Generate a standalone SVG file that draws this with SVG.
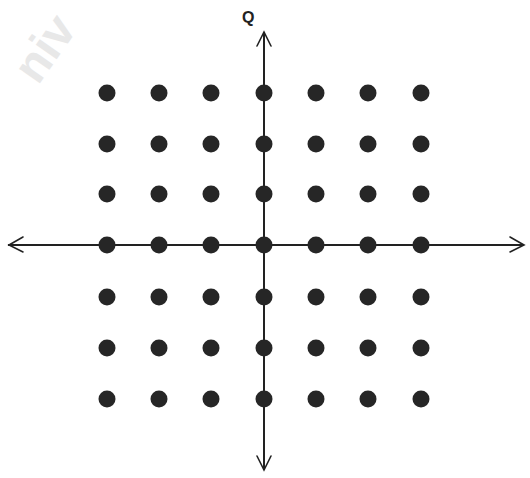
<svg xmlns="http://www.w3.org/2000/svg" width="530" height="478" viewBox="0 0 530 478">
<style>
.dot{fill:#262626}
.ax{stroke:#222;stroke-width:2;fill:none}
.ah{stroke:#222;stroke-width:1.6;fill:none;stroke-linecap:round}
.lbl{font-family:"Liberation Sans",Arial,sans-serif;font-size:16px;font-weight:bold;fill:#222}
.wm{font-family:"Liberation Sans",Arial,sans-serif;font-size:48px;font-weight:bold;fill:#e8e8e8}
</style>
<text class="wm" transform="translate(38,86) rotate(-55)">niv</text>
<g id="connectors">
<line class="ax" x1="8" y1="245" x2="524" y2="245"/>
<line class="ax" x1="264" y1="32" x2="264" y2="470"/>
<polyline class="ah" points="23,237 9,245 23,252"/>
<polyline class="ah" points="510,237 524,245 510,252"/>
<polyline class="ah" points="257,46 264,32 271,46"/>
<polyline class="ah" points="257,456 264,470 271,456"/>
</g>
<g id="label-Q"><text class="lbl" x="242" y="23">Q</text></g>
<g id="points">
<g id="r1"><circle class="dot" cx="107" cy="93" r="8.5"/><circle class="dot" cx="159" cy="93" r="8.5"/><circle class="dot" cx="211" cy="93" r="8.5"/><circle class="dot" cx="264" cy="93" r="8.5"/><circle class="dot" cx="316" cy="93" r="8.5"/><circle class="dot" cx="368" cy="93" r="8.5"/><circle class="dot" cx="421" cy="93" r="8.5"/></g>
<g id="r2"><circle class="dot" cx="107" cy="144" r="8.5"/><circle class="dot" cx="159" cy="144" r="8.5"/><circle class="dot" cx="211" cy="144" r="8.5"/><circle class="dot" cx="264" cy="144" r="8.5"/><circle class="dot" cx="316" cy="144" r="8.5"/><circle class="dot" cx="368" cy="144" r="8.5"/><circle class="dot" cx="421" cy="144" r="8.5"/></g>
<g id="r3"><circle class="dot" cx="107" cy="194" r="8.5"/><circle class="dot" cx="159" cy="194" r="8.5"/><circle class="dot" cx="211" cy="194" r="8.5"/><circle class="dot" cx="264" cy="194" r="8.5"/><circle class="dot" cx="316" cy="194" r="8.5"/><circle class="dot" cx="368" cy="194" r="8.5"/><circle class="dot" cx="421" cy="194" r="8.5"/></g>
<g id="r4"><circle class="dot" cx="107" cy="245" r="8.5"/><circle class="dot" cx="159" cy="245" r="8.5"/><circle class="dot" cx="211" cy="245" r="8.5"/><circle class="dot" cx="264" cy="245" r="8.5"/><circle class="dot" cx="316" cy="245" r="8.5"/><circle class="dot" cx="368" cy="245" r="8.5"/><circle class="dot" cx="421" cy="245" r="8.5"/></g>
<g id="r5"><circle class="dot" cx="107" cy="297" r="8.5"/><circle class="dot" cx="159" cy="297" r="8.5"/><circle class="dot" cx="211" cy="297" r="8.5"/><circle class="dot" cx="264" cy="297" r="8.5"/><circle class="dot" cx="316" cy="297" r="8.5"/><circle class="dot" cx="368" cy="297" r="8.5"/><circle class="dot" cx="421" cy="297" r="8.5"/></g>
<g id="r6"><circle class="dot" cx="107" cy="348" r="8.5"/><circle class="dot" cx="159" cy="348" r="8.5"/><circle class="dot" cx="211" cy="348" r="8.5"/><circle class="dot" cx="264" cy="348" r="8.5"/><circle class="dot" cx="316" cy="348" r="8.5"/><circle class="dot" cx="368" cy="348" r="8.5"/><circle class="dot" cx="421" cy="348" r="8.5"/></g>
<g id="r7"><circle class="dot" cx="107" cy="399" r="8.5"/><circle class="dot" cx="159" cy="399" r="8.5"/><circle class="dot" cx="211" cy="399" r="8.5"/><circle class="dot" cx="264" cy="399" r="8.5"/><circle class="dot" cx="316" cy="399" r="8.5"/><circle class="dot" cx="368" cy="399" r="8.5"/><circle class="dot" cx="421" cy="399" r="8.5"/></g>
</g>
</svg>
